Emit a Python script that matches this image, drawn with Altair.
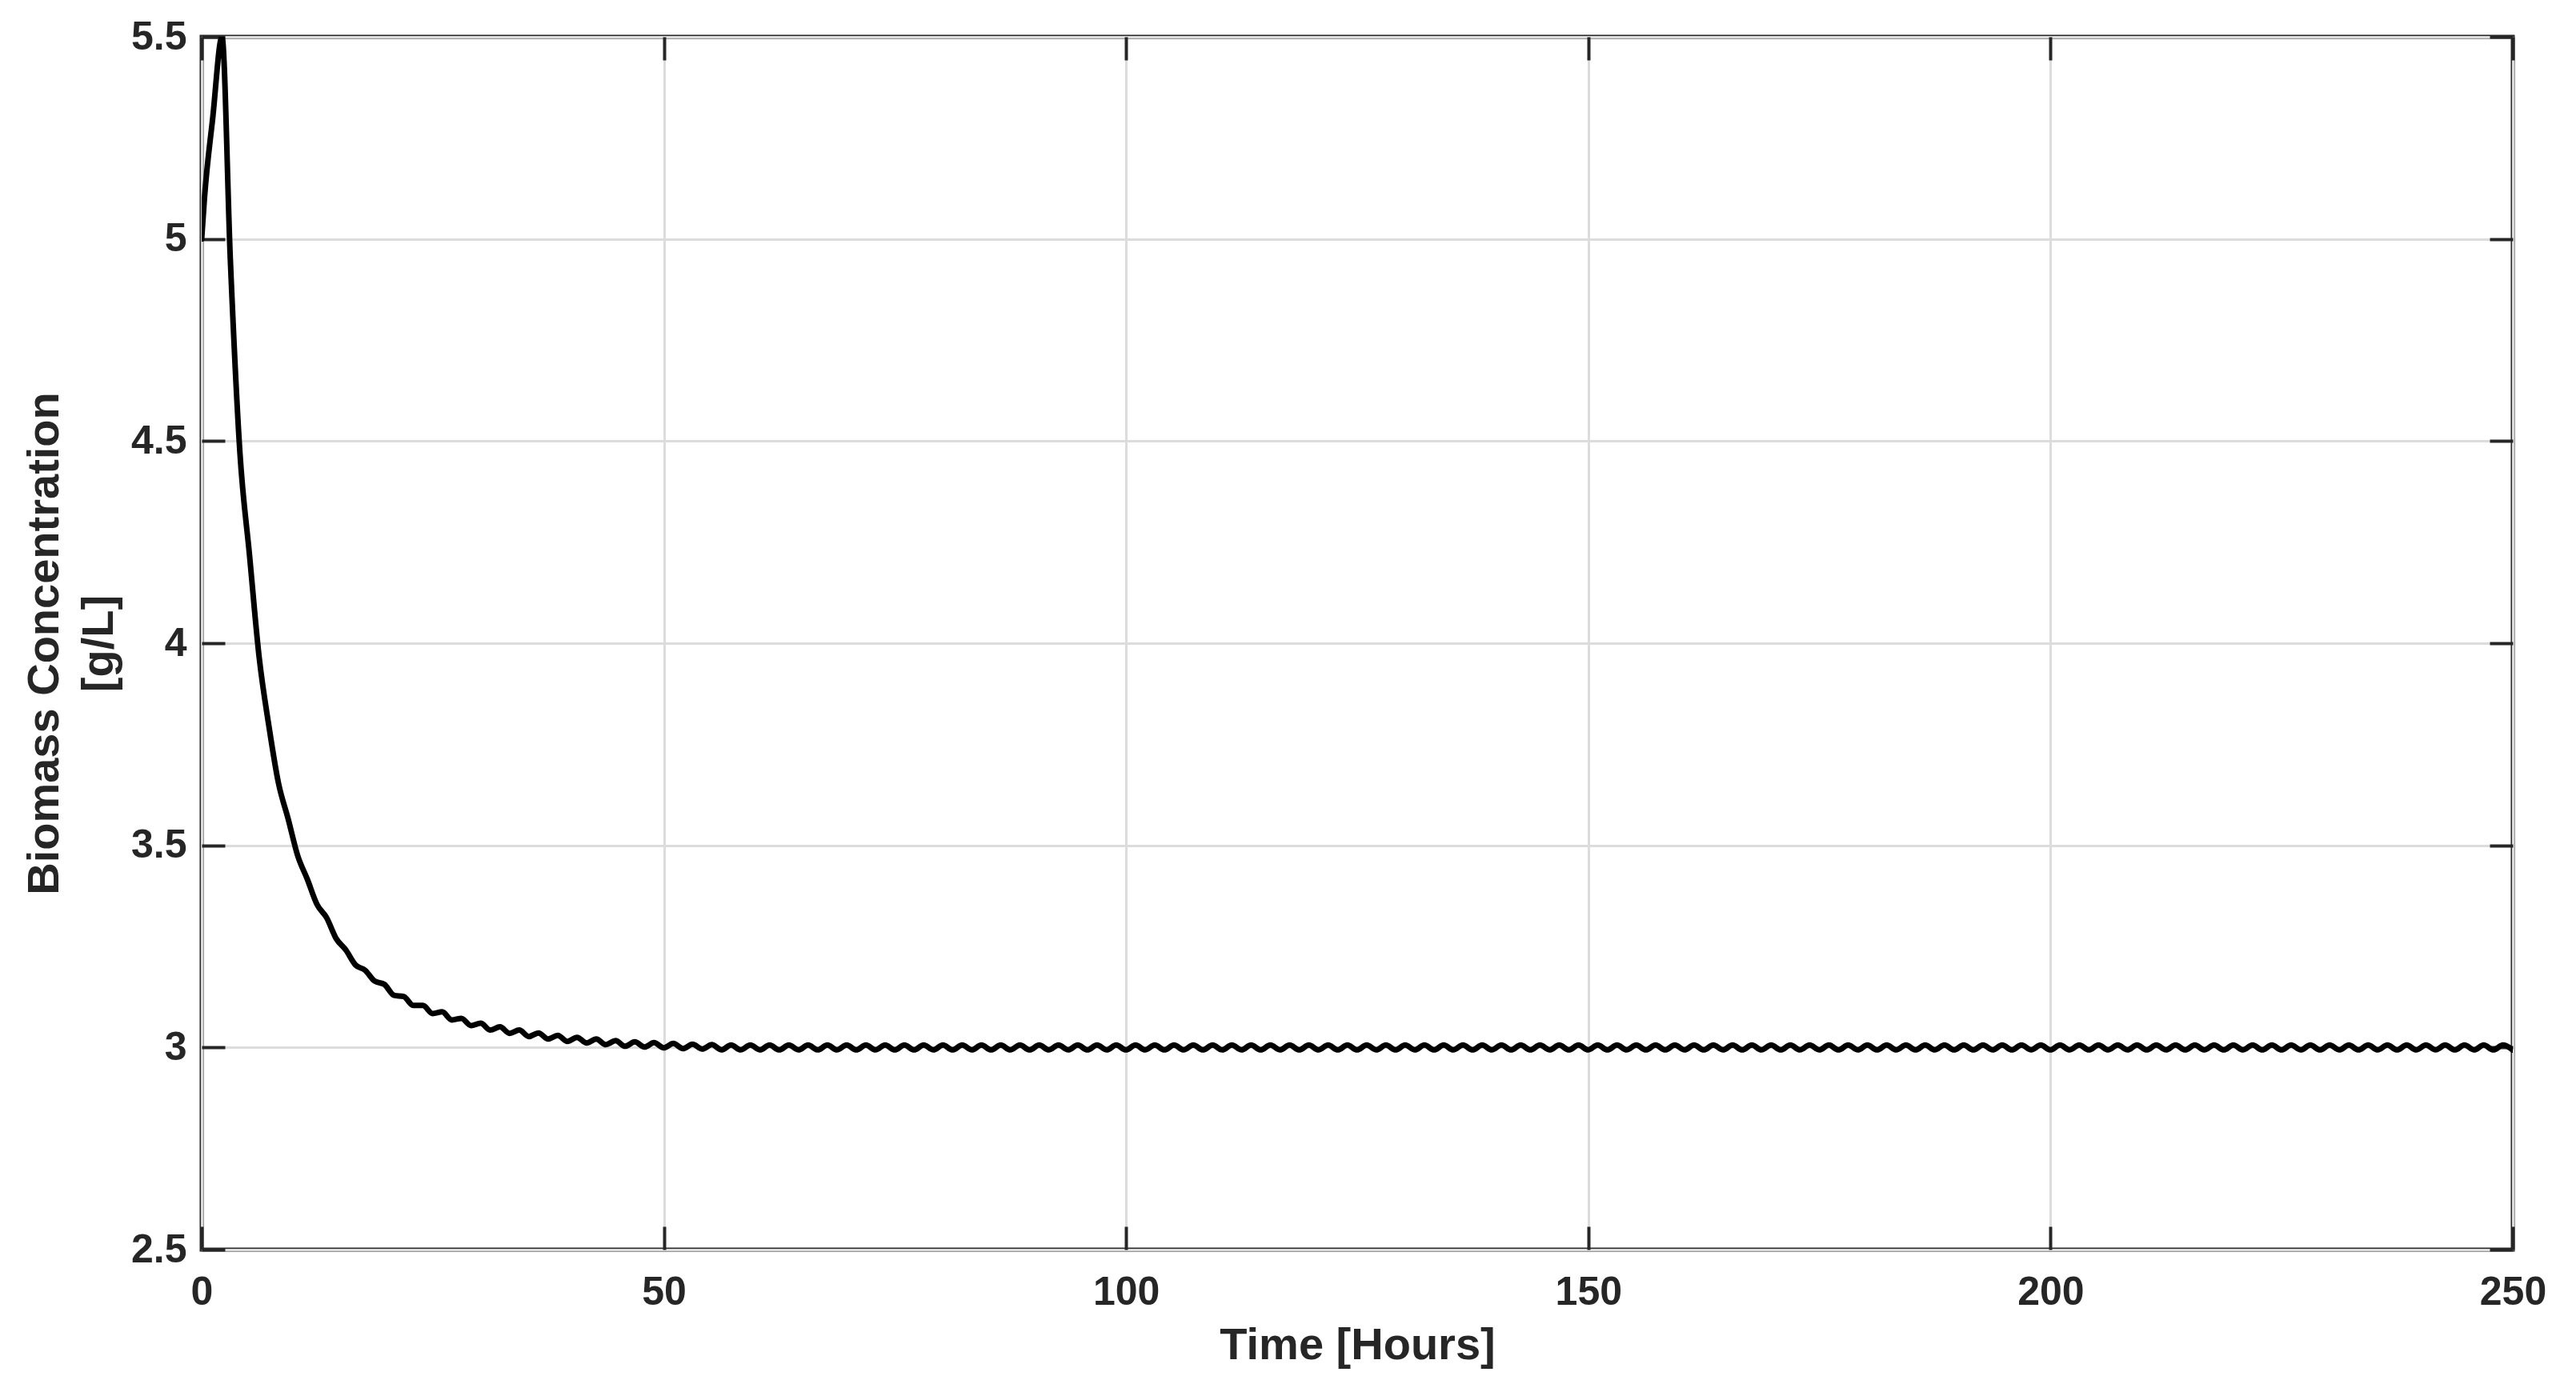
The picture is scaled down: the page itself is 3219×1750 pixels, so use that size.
import altair as alt
import pandas as pd

# ---- data ----
# initial rise to the peak
early_time = [0.0, 0.3, 1.2, 2.2]
early_conc = [5.00, 5.10, 5.30, 5.50]

# after the peak the curve is sampled every half oscillation period (~1.04 h)
GRID_START = 3.1
GRID_STEP = 1.0417
decay_conc = [
    4.950, 4.470, 4.216, 3.964, 3.796, 3.654, 3.566, 3.474, 3.416, 3.354,
    3.321, 3.269, 3.241, 3.204, 3.191, 3.164, 3.156, 3.129, 3.126, 3.104,
    3.104, 3.084, 3.088, 3.068, 3.072, 3.054, 3.060, 3.043, 3.051, 3.035,
    3.043, 3.027, 3.036, 3.021, 3.030, 3.015, 3.025, 3.011, 3.021, 3.007,
    3.017, 3.003, 3.014, 3.001, 3.012, 2.999, 3.010, 2.997, 3.008, 2.996,
    3.007,
]
steady_conc = [
    2.994, 3.006, 2.994, 3.006, 2.994, 3.006, 2.994, 3.006, 2.994, 3.006,
    2.994, 3.006, 2.994, 3.006, 2.994, 3.006, 2.994, 3.006, 2.994, 3.006,
    2.994, 3.006, 2.994, 3.006, 2.994, 3.006, 2.994, 3.006, 2.994, 3.006,
    2.994, 3.006, 2.994, 3.006, 2.994, 3.006, 2.994, 3.006, 2.994, 3.006,
    2.994, 3.006, 2.994, 3.006, 2.994, 3.006, 2.994, 3.006, 2.994, 3.006,
    2.994, 3.006, 2.994, 3.006, 2.994, 3.006, 2.994, 3.006, 2.994, 3.006,
    2.994, 3.006, 2.994, 3.006, 2.994, 3.006, 2.994, 3.006, 2.994, 3.006,
    2.994, 3.006, 2.994, 3.006, 2.994, 3.006, 2.994, 3.006, 2.994, 3.006,
    2.994, 3.006, 2.994, 3.006, 2.994, 3.006, 2.994, 3.006, 2.994, 3.006,
    2.994, 3.006, 2.994, 3.006, 2.994, 3.006, 2.994, 3.006, 2.994, 3.006,
    2.994, 3.006, 2.994, 3.006, 2.994, 3.006, 2.994, 3.006, 2.994, 3.006,
    2.994, 3.006, 2.994, 3.006, 2.994, 3.006, 2.994, 3.006, 2.994, 3.006,
    2.994, 3.006, 2.994, 3.006, 2.994, 3.006, 2.994, 3.006, 2.994, 3.006,
    2.994, 3.006, 2.994, 3.006, 2.994, 3.006, 2.994, 3.006, 2.994, 3.006,
    2.994, 3.006, 2.994, 3.006, 2.994, 3.006, 2.994, 3.006, 2.994, 3.006,
    2.994, 3.006, 2.994, 3.006, 2.994, 3.006, 2.994, 3.006, 2.994, 3.006,
    2.994, 3.006, 2.994, 3.006, 2.994, 3.006, 2.994, 3.006, 2.994, 3.006,
    2.994, 3.006, 2.994, 3.006, 2.994, 3.006, 2.994, 3.006, 2.994, 3.006,
    2.994, 3.006, 2.994, 3.006, 2.994, 3.006, 2.994,
]

x_ticks = [0, 50, 100, 150, 200, 250]
y_ticks = [2.5, 3.0, 3.5, 4.0, 4.5, 5.0, 5.5]
x_title = "Time [Hours]"
y_title = ["Biomass Concentration", "[g/L]"]

# ---- table ----
grid_conc = decay_conc + steady_conc
grid_time = [round(GRID_START + i * GRID_STEP, 4) for i in range(len(grid_conc))]
df = pd.DataFrame({"t": early_time + grid_time, "c": early_conc + grid_conc})

FONT = "Liberation Sans"
INK = "#262626"
TICK = 29

x_scale = alt.Scale(domain=[0, 250], nice=False, zero=False)
y_scale = alt.Scale(domain=[2.5, 5.5], nice=False, zero=False)

main = alt.Chart(df).mark_line(color="black", strokeWidth=7, clip=True,
                               interpolate="monotone",
                               strokeJoin="round", strokeCap="round").encode(
    x=alt.X("t:Q", scale=x_scale, title=x_title,
            axis=alt.Axis(orient="bottom", values=x_ticks, format="d",
                          offset=-TICK, tickSize=TICK, tickWidth=4, tickColor=INK,
                          domain=False, grid=True, gridColor="#dcdcdc", gridWidth=3,
                          labelFont=FONT, labelFontSize=50, labelFontWeight="bold",
                          labelColor=INK, labelPadding=28, labelFlush=False,
                          labelOverlap=False,
                          titleFont=FONT, titleFontSize=56, titleFontWeight="bold",
                          titleColor=INK, titlePadding=14)),
    y=alt.Y("c:Q", scale=y_scale, title=y_title,
            axis=alt.Axis(orient="left", values=y_ticks, format="~g",
                          offset=-TICK, tickSize=TICK, tickWidth=4, tickColor=INK,
                          domain=False, grid=True, gridColor="#dcdcdc", gridWidth=3,
                          labelFont=FONT, labelFontSize=50, labelFontWeight="bold",
                          labelColor=INK, labelPadding=19, labelFlush=False,
                          labelOverlap=False,
                          titleFont=FONT, titleFontSize=56, titleFontWeight="bold",
                          titleColor=INK, titlePadding=11, titleLineHeight=68)),
)

frame = alt.Chart(df).mark_line(opacity=0).encode(
    x=alt.X("t:Q", scale=x_scale, title="",
            axis=alt.Axis(orient="top", values=x_ticks, labels=False,
                          offset=-TICK, tickSize=TICK, tickWidth=4, tickColor=INK,
                          domain=False, grid=False)),
    y=alt.Y("c:Q", scale=y_scale, title="",
            axis=alt.Axis(orient="right", values=y_ticks, labels=False,
                          offset=-TICK, tickSize=TICK, tickWidth=4, tickColor=INK,
                          domain=False, grid=False)),
)

chart = alt.layer(frame, main).resolve_axis(x="independent", y="independent").properties(
    width=2888, height=1516,
    autosize=alt.AutoSizeParams(type="none"),
    padding={"left": 244, "top": 38, "right": 60, "bottom": 170},
    background="white",
).configure_view(stroke=INK, strokeWidth=5)

chart.save("out.html", embed_options={"renderer": "svg", "actions": False})
